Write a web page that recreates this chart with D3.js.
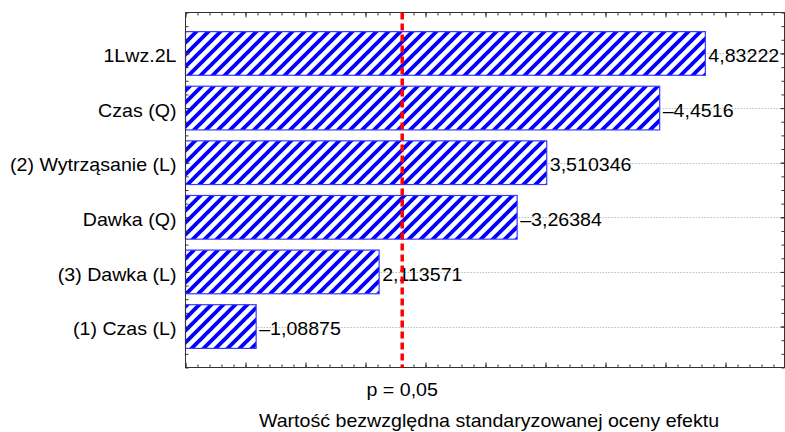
<!DOCTYPE html>
<html>
<head>
<meta charset="utf-8">
<script src="https://cdn.jsdelivr.net/npm/d3@7"></script>
<style>
  body { margin: 0; background: #fff; }
  text { font-family: "Liberation Sans", Arial, sans-serif; fill: #000; }
</style>
</head>
<body>
<svg></svg>
<script>
const chartWidth = 785;
const chartHeight = 432;

// data
const categories = [
  "1Lwz.2L",
  "Czas (Q)",
  "(2) Wytrząsanie (L)",
  "Dawka (Q)",
  "(3) Dawka (L)",
  "(1) Czas (L)",
];
const effects = [4.83222, -4.4516, 3.510346, -3.26384, 2.113571, -1.08875];
const effectLabels = ["4,83222", "–4,4516", "3,510346", "–3,26384", "2,113571", "–1,08875"];
const pValueLine = 2.306;
const pValueLabel = "p = 0,05";
const xTitle = "Wartość bezwzględna standaryzowanej oceny efektu";

const fontSize = 18;
const stretch = 1.09;

//creating svg
const svg = d3.select("svg").attr("width", chartWidth).attr("height", chartHeight);

//scales
const x = d3.scaleLinear().domain([0.5, 5.5]).range([185.5, 785.5]);
const y = d3.scaleLinear().domain([0.25, 6.75]).range([12.5, 367.5]);
const plotTop = y.range()[0];
const plotBottom = y.range()[1];

//hatch pattern
const pattern = svg
  .append("defs")
  .append("pattern")
  .attr("id", "hatch")
  .attr("patternUnits", "userSpaceOnUse")
  .attr("width", 12)
  .attr("height", 12);
pattern.append("rect").attr("width", 12).attr("height", 12).attr("fill", "#fff");
pattern
  .append("path")
  .attr("d", "M-3,3L3,-3M0,12L12,0M9,15L15,9")
  .attr("stroke", "#0000ff")
  .attr("stroke-width", 3.8);

//grid lines at each category
svg
  .append("g")
  .selectAll("line")
  .data(categories)
  .enter()
  .append("line")
  .attr("x1", x.range()[0])
  .attr("x2", x.range()[1])
  .attr("y1", (d, i) => Math.round(y(i + 1)) + 0.5)
  .attr("y2", (d, i) => Math.round(y(i + 1)) + 0.5)
  .attr("stroke", "#bdbdbd")
  .attr("stroke-dasharray", "1.5,1.5");

//bars
svg
  .append("g")
  .selectAll("rect")
  .data(effects)
  .enter()
  .append("rect")
  .attr("x", x(0.5))
  .attr("y", (d, i) => y(i + 1 - 0.4))
  .attr("width", (d) => x(Math.abs(d)) - x(0.5))
  .attr("height", y(0.8) - y(0))
  .attr("fill", "url(#hatch)")
  .attr("stroke", "#3a3aff")
  .attr("stroke-width", 1.2);

//value labels
svg
  .append("g")
  .selectAll("g")
  .data(effects)
  .enter()
  .append("g")
  .attr("transform", (d, i) => `translate(${x(Math.abs(d)) + 3},${y(i + 1) + 8.8}) scale(${stretch},1)`)
  .append("text")
  .attr("font-size", fontSize)
  .text((d, i) => effectLabels[i]);

//category labels
svg
  .append("g")
  .selectAll("g")
  .data(categories)
  .enter()
  .append("g")
  .attr("transform", (d, i) => `translate(176.5,${y(i + 1) + 8.8}) scale(${stretch},1)`)
  .append("text")
  .attr("font-size", fontSize)
  .attr("text-anchor", "end")
  .text((d) => d);

//axes, ticks pointing inward, no tick labels
const xMajor = d3.range(0.5, 5.51, 0.5);
const xMinor = d3.range(0.5, 5.51, 0.1);
const yMajor = d3.range(1, 7, 1);
const yMinor = d3.range(0.25, 6.76, 0.25);

function drawAxis(axis, values, size, transform) {
  const g = svg
    .append("g")
    .attr("transform", transform)
    .call(axis.tickValues(values).tickSize(size).tickSizeOuter(0).tickFormat(""));
  g.select(".domain").remove();
  g.selectAll("line").attr("stroke", "#333");
}

drawAxis(d3.axisBottom(x), xMajor, 5, `translate(0,${plotTop})`);
drawAxis(d3.axisBottom(x), xMinor, 3, `translate(0,${plotTop})`);
drawAxis(d3.axisTop(x), xMajor, 5, `translate(0,${plotBottom})`);
drawAxis(d3.axisTop(x), xMinor, 3, `translate(0,${plotBottom})`);
drawAxis(d3.axisRight(y), yMajor, 4, `translate(${x.range()[0]},0)`);
drawAxis(d3.axisRight(y), yMinor, 3, `translate(${x.range()[0]},0)`);
drawAxis(d3.axisLeft(y), yMajor, 4, `translate(${x.range()[1] - 1},0)`);
drawAxis(d3.axisLeft(y), yMinor, 3, `translate(${x.range()[1] - 1},0)`);

//frame
svg
  .append("rect")
  .attr("x", x.range()[0])
  .attr("y", plotTop)
  .attr("width", x.range()[1] - x.range()[0] - 1)
  .attr("height", plotBottom - plotTop)
  .attr("fill", "none")
  .attr("stroke", "#333");

//critical value line
svg
  .append("line")
  .attr("x1", x(pValueLine))
  .attr("x2", x(pValueLine))
  .attr("y1", plotTop)
  .attr("y2", plotBottom)
  .attr("stroke", "#ff0000")
  .attr("stroke-width", 3.5)
  .attr("stroke-dasharray", "7,4");

svg
  .append("g")
  .attr("transform", `translate(${x(pValueLine)},396) scale(${stretch},1)`)
  .append("text")
  .attr("font-size", fontSize)
  .attr("text-anchor", "middle")
  .text(pValueLabel);

//axis title
svg
  .append("g")
  .attr("transform", `translate(489,426.5) scale(${stretch},1)`)
  .append("text")
  .attr("font-size", fontSize)
  .attr("text-anchor", "middle")
  .text(xTitle);
</script>
</body>
</html>
